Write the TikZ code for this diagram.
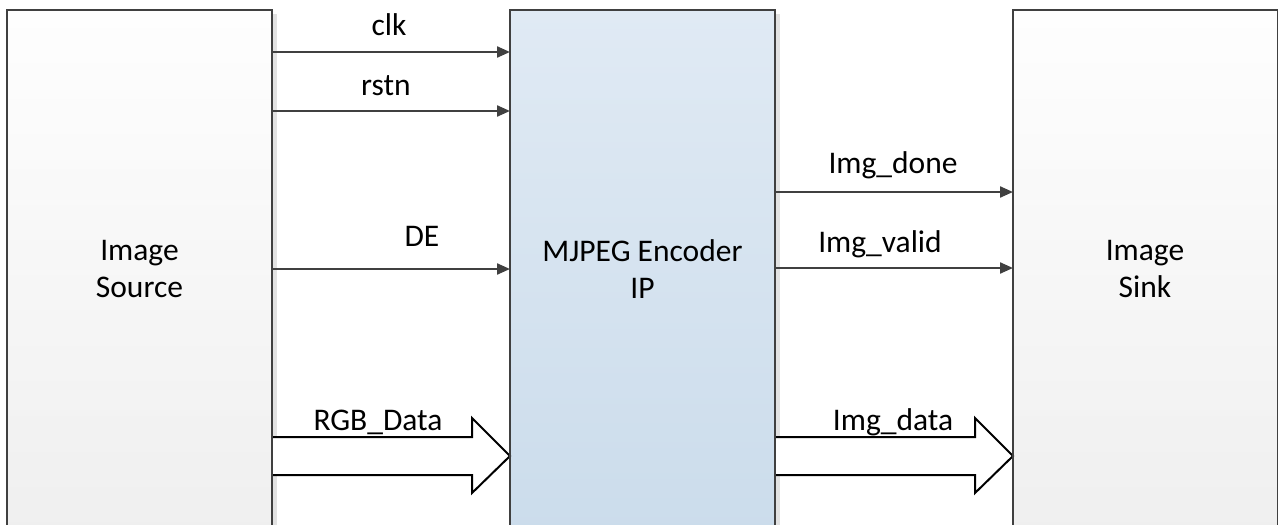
\documentclass[tikz,border=0pt]{standalone}
\usepackage{fontspec}
\setmainfont{Carlito}
\usetikzlibrary{arrows.meta}
\definecolor{edge}{HTML}{404040}
\definecolor{enctop}{HTML}{E0EAF4}
\definecolor{encbot}{HTML}{C8DAEA}
\definecolor{sidetop}{HTML}{FEFEFE}
\definecolor{sidebot}{HTML}{EDEDED}
\definecolor{shadowc}{HTML}{E2E2E2}
\tikzset{
  blk/.style={draw=edge, line width=2.4pt, minimum width=265pt, minimum height=600pt, inner sep=0pt, outer sep=0pt, anchor=north west},
  sidebox/.style={blk, top color=sidetop, bottom color=sidebot},
  encbox/.style={blk, top color=enctop, bottom color=encbot},
  sig/.style={draw=edge, line width=2.2pt, -{Triangle[length=13pt,width=11pt]}},
  bus/.style={draw=black, line width=2pt, line join=miter},
  lbl/.style={font=\fontsize{31.5}{37}\selectfont, anchor=base, inner sep=0pt},
  boxlbl/.style={font=\fontsize{31.5}{37}\selectfont, align=center, inner sep=0pt}
}
\begin{document}
\begin{tikzpicture}[x=1pt,y=-1pt]
\useasboundingbox (0,0) rectangle (1278,525);
\clip (0,0) rectangle (1278,525);
\fill[white] (0,0) rectangle (1278,525);
% shadows
\fill[shadowc] (11,14) rectangle (277,620);
\fill[shadowc] (514,14) rectangle (780,620);
\fill[shadowc] (1017,14) rectangle (1283,620);
% boxes
\node[sidebox] (src) at (7,10) {};
\node[encbox] (enc) at (510,10) {};
\node[sidebox] (sink) at (1013,10) {};
% box labels
\node[boxlbl] (srcl) at (139.5,269) {Image\\Source};
\node[boxlbl] (encl) at (642.5,269) {MJPEG Encoder\\IP};
\node[boxlbl] (sinkl) at (1145,269) {Image\\Sink};
% signal rows
\coordinate (yclk) at (0,52);
\coordinate (yrst) at (0,111);
\coordinate (yde) at (0,269);
\coordinate (ydone) at (0,192);
\coordinate (yvalid) at (0,268);
\draw[sig] (src.east |- yclk) -- (enc.west |- yclk);
\draw[sig] (src.east |- yrst) -- (enc.west |- yrst);
\draw[sig] (src.east |- yde) -- (enc.west |- yde);
\draw[sig] (enc.east |- ydone) -- (sink.west |- ydone);
\draw[sig] (enc.east |- yvalid) -- (sink.west |- yvalid);
% bus arrows
\coordinate (bt) at (0,437);
\coordinate (bb) at (0,475);
\coordinate (bm) at (0,456);
\coordinate (ht) at (0,418);
\coordinate (hb) at (0,493);
\coordinate (rgbh) at (472,0);
\coordinate (imgh) at (975,0);
\path[fill=white] (src.east |- bt) -- (rgbh |- bt) -- (rgbh |- ht) -- (enc.west |- bm) -- (rgbh |- hb) -- (rgbh |- bb) -- (src.east |- bb) -- cycle;
\draw[bus] (src.east |- bt) -- (rgbh |- bt) -- (rgbh |- ht) -- (enc.west |- bm) -- (rgbh |- hb) -- (rgbh |- bb) -- (src.east |- bb);
\path[fill=white] (enc.east |- bt) -- (imgh |- bt) -- (imgh |- ht) -- (sink.west |- bm) -- (imgh |- hb) -- (imgh |- bb) -- (enc.east |- bb) -- cycle;
\draw[bus] (enc.east |- bt) -- (imgh |- bt) -- (imgh |- ht) -- (sink.west |- bm) -- (imgh |- hb) -- (imgh |- bb) -- (enc.east |- bb);
% redraw box edges over bus fills
\draw[edge, line width=2.4pt] (src.north east) -- (src.south east);
\draw[edge, line width=2.4pt] (enc.north west) -- (enc.south west);
\draw[edge, line width=2.4pt] (enc.north east) -- (enc.south east);
\draw[edge, line width=2.4pt] (sink.north west) -- (sink.south west);
% labels
\node[lbl] (lclk) at (389,35) {clk};
\node[lbl] (lrst) at (386,95) {rstn};
\node[lbl] (lde) at (422,246) {DE};
\node[lbl] (ldone) at (893,173) {Img\_done};
\node[lbl] (lvalid) at (880,252) {Img\_valid};
\node[lbl] (lrgb) at (378,430) {RGB\_Data};
\node[lbl] (limg) at (893,430) {Img\_data};
\end{tikzpicture}
\end{document}
